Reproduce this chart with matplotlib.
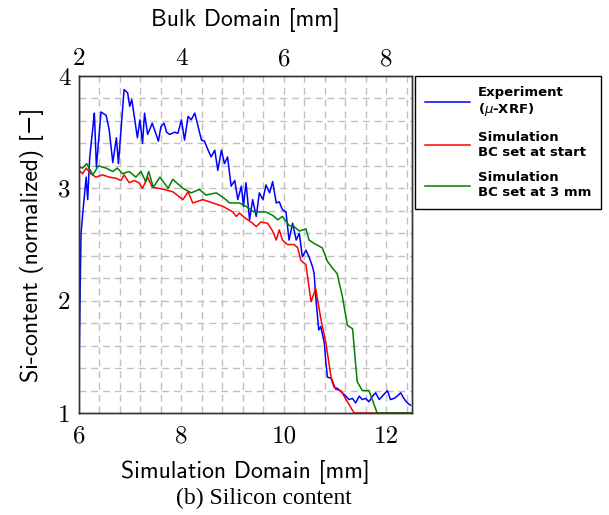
import matplotlib
matplotlib.use("Agg")
import matplotlib.pyplot as plt

plt.rcParams['mathtext.fontset'] = 'dejavusans'
plt.rcParams['axes.formatter.use_mathtext'] = True

# Experiment (mu-XRF)
exp_x = [6.00, 6.02, 6.04, 6.08, 6.14, 6.17, 6.21, 6.28, 6.30, 6.34, 6.43, 6.53, 6.59,
         6.66, 6.73, 6.77, 6.88, 6.95, 6.99, 7.03, 7.08, 7.14, 7.19, 7.24, 7.28, 7.34,
         7.43, 7.55, 7.60, 7.66, 7.71, 7.77, 7.87, 7.93, 8.00, 8.06, 8.13, 8.19, 8.26,
         8.32, 8.39, 8.45, 8.52, 8.58, 8.65, 8.71, 8.78, 8.84, 8.90, 8.97, 9.04, 9.10,
         9.17, 9.21, 9.26, 9.33, 9.39, 9.46, 9.52, 9.59, 9.65, 9.72, 9.78, 9.85, 9.91,
         9.97, 10.04, 10.10, 10.17, 10.24, 10.30, 10.36, 10.43, 10.49, 10.56, 10.59,
         10.62, 10.68, 10.72, 10.79, 10.82, 10.85, 10.92, 10.98, 11.04, 11.14, 11.21,
         11.27, 11.34, 11.40, 11.47, 11.53, 11.60, 11.66, 11.73, 11.79, 11.86, 11.92,
         12.02, 12.08, 12.15, 12.21, 12.28, 12.34, 12.41, 12.47]
exp_y = [1.38, 2.00, 2.60, 2.81, 3.10, 2.90, 3.28, 3.58, 3.67, 3.19, 3.68, 3.65, 3.52,
         3.23, 3.45, 3.22, 3.88, 3.85, 3.73, 3.79, 3.64, 3.45, 3.61, 3.40, 3.67, 3.48,
         3.58, 3.42, 3.55, 3.58, 3.50, 3.48, 3.50, 3.49, 3.61, 3.43, 3.64, 3.61, 3.67,
         3.56, 3.43, 3.42, 3.34, 3.28, 3.34, 3.16, 3.34, 3.22, 3.28, 3.02, 3.07, 2.90,
         3.02, 2.84, 3.05, 2.72, 2.90, 2.75, 2.96, 2.90, 3.03, 2.96, 3.06, 2.87, 2.88,
         2.81, 2.79, 2.54, 2.69, 2.54, 2.60, 2.39, 2.45, 2.39, 2.30, 2.24,
         2.04, 1.74, 1.77, 1.62, 1.44, 1.32, 1.31, 1.23, 1.22, 1.18, 1.15,
         1.12, 1.13, 1.09, 1.15, 1.12, 1.13, 1.10, 1.15, 1.18, 1.12, 1.15,
         1.20, 1.12, 1.13, 1.15, 1.18, 1.13, 1.09, 1.07]

# Simulation, BC set at start
start_x = [6.00, 6.07, 6.14, 6.23, 6.33, 6.46, 6.59, 6.72, 6.82, 6.88, 6.98, 7.08, 7.17,
           7.24, 7.34, 7.43, 7.56, 7.66, 7.83, 8.03, 8.13, 8.22, 8.42, 8.61, 8.81, 9.00,
           9.07, 9.13, 9.26, 9.36, 9.46, 9.55, 9.68, 9.78, 9.85, 9.91, 9.97, 10.07, 10.20,
           10.27, 10.33, 10.43, 10.53, 10.62, 10.72, 10.82, 10.92, 11.01, 11.11, 11.24,
           11.37, 12.00, 12.50]
start_y = [3.16, 3.13, 3.18, 3.13, 3.10, 3.12, 3.10, 3.09, 3.07, 3.12, 3.05, 3.07, 3.05,
           3.00, 3.10, 3.01, 3.00, 2.99, 2.97, 2.90, 2.97, 2.87, 2.90, 2.87, 2.84, 2.79,
           2.75, 2.78, 2.73, 2.70, 2.66, 2.70, 2.69, 2.62, 2.54, 2.63, 2.54, 2.50, 2.50,
           2.47, 2.36, 2.32, 1.99, 2.11, 1.84, 1.62, 1.32, 1.21, 1.20, 1.10,
           1.00, 1.00, 1.00]

# Simulation, BC set at 3 mm
mm3_x = [6.00, 6.07, 6.15, 6.27, 6.38, 6.53, 6.66, 6.75, 6.85, 6.98, 7.11, 7.21, 7.30,
         7.36, 7.45, 7.58, 7.74, 7.83, 8.03, 8.19, 8.35, 8.48, 8.68, 8.84, 8.94, 9.13,
         9.26, 9.42, 9.65, 9.78, 9.88, 9.97, 10.10, 10.20, 10.30, 10.43, 10.49, 10.59,
         10.75, 10.85, 10.95, 11.04, 11.14, 11.24, 11.34, 11.43, 11.53, 11.66, 11.82,
         12.50]
mm3_y = [3.19, 3.18, 3.22, 3.12, 3.20, 3.18, 3.15, 3.18, 3.13, 3.15, 3.10, 3.15, 3.06,
         3.15, 3.01, 3.10, 3.00, 3.08, 3.00, 2.96, 2.99, 2.94, 2.96, 2.91, 2.87, 2.87,
         2.84, 2.79, 2.79, 2.76, 2.72, 2.75, 2.67, 2.66, 2.62, 2.64, 2.54, 2.51,
         2.47, 2.35, 2.29, 2.24, 2.04, 1.78, 1.75, 1.28, 1.20, 1.20, 1.00,
         1.00]

xticks = [6, 8, 10, 12]
top_ticks = [2, 4, 6, 8]
yticks = [1, 2, 3, 4]

fig = plt.figure(figsize=(6.09, 5.15), dpi=100)
ax = fig.add_axes([0.1297, 0.198, 0.5468, 0.6544])

ax.plot(exp_x, exp_y, color='#0000ff', lw=1.1, label='Experiment\n($\\mu$-XRF)')
ax.plot(start_x, start_y, color='#ff0000', lw=1.1, label='Simulation\nBC set at start')
ax.plot(mm3_x, mm3_y, color='#008000', lw=1.1, label='Simulation\nBC set at 3 mm')

ax.set_xlim(6, 12.5)
ax.set_ylim(1, 4)

# grid every 0.4 in x and 0.2 in y
gx = [6 + 0.4 * i for i in range(17)]
gy = [1 + 0.2 * i for i in range(16)]
for v in gx[1:]:
    ax.axvline(v, color='#c0c0c0', lw=1.0, ls=(0, (5, 3.5)), zorder=0)
for v in gy[1:]:
    ax.axhline(v, color='#c0c0c0', lw=1.0, ls=(0, (5, 3.5)), zorder=0)

ax.set_xticks(xticks)
ax.set_xticklabels([str(t) for t in xticks], fontfamily='cmr10', fontsize=18)
ax.set_yticks(yticks)
ax.set_yticklabels([str(t) for t in yticks], fontfamily='cmr10', fontsize=18)
ax.tick_params(axis='x', length=0, pad=9)
ax.tick_params(axis='y', length=0, pad=6)
for s in ax.spines.values():
    s.set_color('#333333')
    s.set_linewidth(1.0)

ax.set_xlabel('Simulation Domain [mm]', fontfamily='cmss10', fontsize=17, labelpad=9)
ax.set_ylabel('Si-content (normalized) [\u2212]', fontfamily=['cmss10', 'DejaVu Sans'],
              fontsize=17, labelpad=10)

ax2 = ax.twiny()
ax2.set_xlim(2, 8.5)
ax2.set_xticks(top_ticks)
ax2.set_xticklabels([str(t) for t in top_ticks], fontfamily='cmr10', fontsize=18)
ax2.tick_params(length=0, pad=4)
ax2.set_xlabel('Bulk Domain [mm]', fontfamily='cmss10', fontsize=17, labelpad=16)
for s in ax2.spines.values():
    s.set_color('#333333')
    s.set_linewidth(1.0)

leg = ax.legend(loc='upper left', bbox_to_anchor=(1.01, 1.0), borderaxespad=0,
                fancybox=False, edgecolor='black', framealpha=1,
                prop={'family': 'DejaVu Sans', 'weight': 'bold', 'size': 9.5},
                handlelength=3.4, labelspacing=0.95, borderpad=0.75, handletextpad=0.6)
leg.get_frame().set_linewidth(1.0)

fig.text(0.433, 0.012, '(b) Silicon content', fontfamily='Liberation Serif', fontsize=17,
         ha='center', va='bottom')

fig.savefig('out.png', dpi=100)
